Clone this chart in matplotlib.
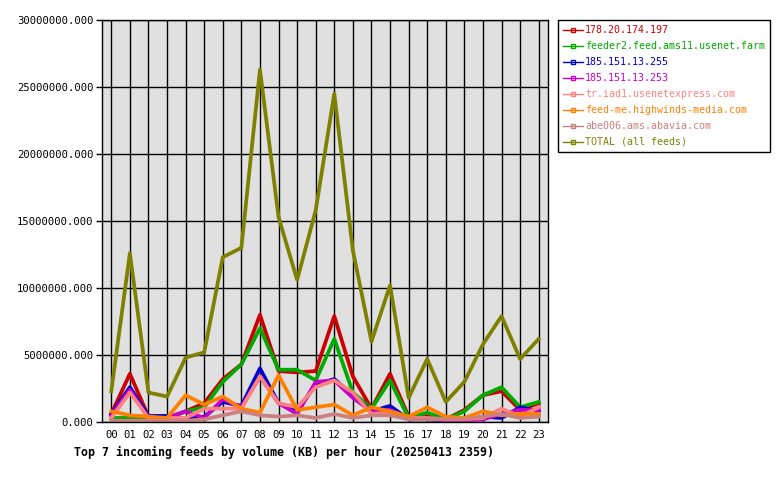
import numpy as np
import matplotlib
matplotlib.use('agg')
import matplotlib.pyplot as plt
from matplotlib.lines import Line2D

# hours of the day
hours = ['%02d' % h for h in range(24)]

# per-feed volume (KB) per hour
feed_178 = [0.6e6, 3.6e6, 0.4e6, 0.3e6, 0.8e6, 1.4e6, 3.2e6, 4.3e6, 8.0e6, 3.8e6, 3.7e6, 3.8e6,
            7.9e6, 3.4e6, 1.0e6, 3.6e6, 0.4e6, 0.5e6, 0.2e6, 0.9e6, 2.0e6, 2.3e6, 0.9e6, 1.4e6]
feed_ams11 = [0.3e6, 0.3e6, 0.2e6, 0.2e6, 0.8e6, 1.1e6, 3.0e6, 4.3e6, 7.0e6, 3.9e6, 3.9e6, 3.1e6,
              6.2e6, 2.2e6, 1.0e6, 3.1e6, 0.3e6, 0.7e6, 0.2e6, 0.8e6, 2.0e6, 2.6e6, 1.1e6, 1.5e6]
feed_255 = [0.6e6, 2.6e6, 0.45e6, 0.45e6, 0.2e6, 0.4e6, 1.5e6, 1.2e6, 4.0e6, 1.4e6, 0.8e6, 2.8e6,
            3.2e6, 2.0e6, 0.8e6, 1.2e6, 0.2e6, 0.2e6, 0.1e6, 0.1e6, 0.4e6, 0.3e6, 1.1e6, 0.8e6]
feed_253 = [0.5e6, 2.4e6, 0.3e6, 0.3e6, 0.8e6, 0.3e6, 1.7e6, 1.1e6, 3.4e6, 1.4e6, 0.6e6, 3.0e6,
            3.1e6, 1.8e6, 0.8e6, 0.9e6, 0.3e6, 0.3e6, 0.1e6, 0.1e6, 0.2e6, 0.6e6, 0.9e6, 0.9e6]
feed_iad1 = [0.3e6, 2.2e6, 0.3e6, 0.3e6, 0.3e6, 1.0e6, 1.0e6, 1.0e6, 3.4e6, 1.4e6, 1.1e6, 2.6e6,
             3.1e6, 2.2e6, 0.6e6, 0.7e6, 0.3e6, 0.3e6, 0.2e6, 0.2e6, 0.3e6, 1.0e6, 0.4e6, 1.1e6]
feed_highwinds = [0.8e6, 0.5e6, 0.4e6, 0.3e6, 2.0e6, 1.3e6, 1.9e6, 1.0e6, 0.7e6, 3.5e6, 0.9e6, 1.1e6,
                  1.3e6, 0.5e6, 1.1e6, 0.8e6, 0.4e6, 1.1e6, 0.4e6, 0.3e6, 0.8e6, 0.5e6, 0.6e6, 0.6e6]
feed_abavia = [0.1e6, 0.1e6, 0.1e6, 0.1e6, 0.1e6, 0.2e6, 0.5e6, 0.8e6, 0.5e6, 0.4e6, 0.5e6, 0.3e6,
               0.6e6, 0.3e6, 0.5e6, 0.5e6, 0.2e6, 0.2e6, 0.2e6, 0.2e6, 0.4e6, 0.6e6, 0.3e6, 0.4e6]
total = [2.3e6, 12.6e6, 2.2e6, 1.9e6, 4.8e6, 5.2e6, 12.3e6, 13.0e6, 26.3e6, 15.3e6, 10.6e6, 15.8e6,
         24.5e6, 12.8e6, 6.0e6, 10.2e6, 1.8e6, 4.7e6, 1.5e6, 3.0e6, 5.8e6, 7.9e6, 4.7e6, 6.2e6]

labels = ['178.20.174.197', 'feeder2.feed.ams11.usenet.farm', '185.151.13.255',
          '185.151.13.253', 'tr.iad1.usenetexpress.com', 'feed-me.highwinds-media.com',
          'abe006.ams.abavia.com', 'TOTAL (all feeds)']
series = [feed_178, feed_ams11, feed_255, feed_253, feed_iad1, feed_highwinds, feed_abavia, total]
colors = ['#cc0000', '#00aa00', '#0000cc', '#cc00cc', '#ff8080', '#ff8000', '#cc7f7f', '#808000']

mono = 'DejaVu Sans Mono'

fig = plt.figure(figsize=(7.8, 4.8), dpi=100)
ax = fig.add_axes([102/780, 58/480, 446/780, 402/480])
ax.set_facecolor('#e0e0e0')

x = np.arange(len(hours))
for s, c in zip(series, colors):
    ax.plot(x, s, color=c, lw=2.7)

ax.set_xlim(-0.5, 23.5)
ax.set_ylim(0, 30e6)
ax.set_xticks(x)
ax.set_xticklabels(hours, family=mono, fontsize=7.6)
yt = np.arange(0, 30e6 + 1, 5e6)
ax.set_yticks(yt)
ax.set_yticklabels(['%.3f' % v for v in yt], family=mono, fontsize=7.6)
ax.tick_params(axis='x', length=0, pad=6)
ax.tick_params(axis='y', length=4, width=1, pad=2)
ax.grid(True, color='black', lw=1)
ax.set_axisbelow(True)
for sp in ax.spines.values():
    sp.set_linewidth(1)

handles = [Line2D([], [], color=c, lw=1, marker='s', markersize=3, mfc='none') for c in colors]
leg = fig.legend(handles, labels, loc='upper left', bbox_to_anchor=(558/780, 1 - 20/480),
                 prop={'family': mono, 'size': 7.2}, labelcolor=colors, fancybox=False,
                 edgecolor='black', framealpha=1, handlelength=2.0, handletextpad=0.2,
                 labelspacing=0.6, borderpad=0.5, borderaxespad=0)
leg.get_frame().set_linewidth(1)

fig.text(74/780, 1 - 452/480, 'Top 7 incoming feeds by volume (KB) per hour (20250413 2359)',
         family=mono, fontsize=8.35, fontweight='bold', ha='left', va='center')

fig.savefig('out.png', dpi=100)
